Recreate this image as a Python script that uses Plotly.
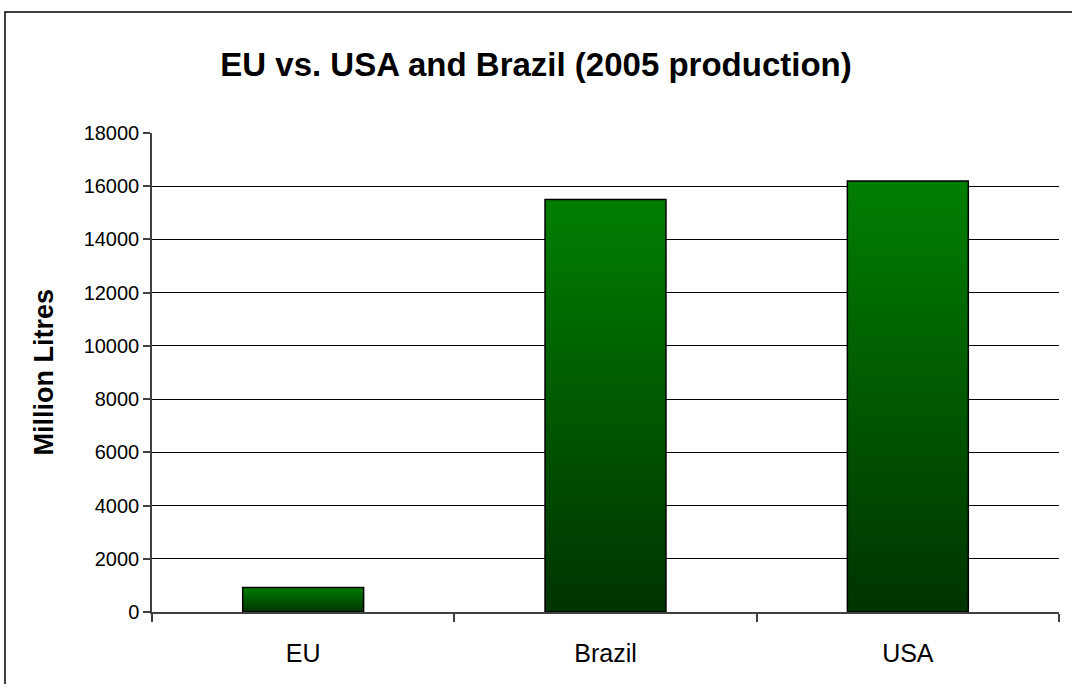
import plotly.graph_objects as go

# ---- data ----
categories = ["EU", "Brazil", "USA"]
production = [920, 15500, 16200]          # million litres, 2005
y_ticks = [0, 2000, 4000, 6000, 8000, 10000, 12000, 14000, 16000, 18000]
title_text = "EU vs. USA and Brazil (2005 production)"
y_title = "Million Litres"

# ---- layout constants ----
W, H = 1072, 684
ML, MR, MT, MB = 152, 13, 133, 72
PW, PH = W - ML - MR, H - MT - MB
FONT = "Liberation Sans, Arial, sans-serif"

top_rgb = (0, 126, 0)
bot_rgb = (0, 52, 0)
N = 80

fig = go.Figure()

# gradient fill: overlay bars from tallest (bright) to shortest (dark)
for k in range(N):
    frac = (N - k) / N
    lvl = (N - k - 1) / (N - 1)
    r = round(bot_rgb[0] + (top_rgb[0] - bot_rgb[0]) * lvl)
    g = round(bot_rgb[1] + (top_rgb[1] - bot_rgb[1]) * lvl)
    b = round(bot_rgb[2] + (top_rgb[2] - bot_rgb[2]) * lvl)
    fig.add_trace(go.Bar(
        x=categories, y=[v * frac for v in production],
        width=0.4, marker=dict(color=f"rgb({r},{g},{b})", line=dict(width=0)),
        hoverinfo="skip", showlegend=False,
    ))

# outline
fig.add_trace(go.Bar(
    x=categories, y=production, width=0.4,
    marker=dict(color="rgba(0,0,0,0)", line=dict(color="#000000", width=1.5)),
    showlegend=False, hovertemplate="%{x}: %{y}<extra></extra>",
))

fig.update_layout(
    width=W, height=H,
    margin=dict(l=ML, r=MR, t=MT, b=MB),
    paper_bgcolor="white", plot_bgcolor="white",
    barmode="overlay",
    font=dict(family=FONT, color="black", size=20),
    title=dict(text=title_text, x=536 / W, xanchor="center", xref="container",
               y=1 - 64 / H, yanchor="middle",
               font=dict(family=FONT, size=33, weight="bold", color="black")),
    xaxis=dict(
        type="category", showgrid=False, showline=True, linecolor="#404040", linewidth=1.5,
        ticks="outside", tickson="boundaries", ticklen=8, tickcolor="#404040", tickwidth=1.5,
        tickfont=dict(size=25), ticklabelstandoff=18, fixedrange=True,
    ),
    yaxis=dict(
        range=[0, 18000], tickvals=y_ticks, ticktext=[str(t) for t in y_ticks],
        showgrid=True, gridcolor="#000000", gridwidth=1,
        showline=True, linecolor="#404040", linewidth=1.5,
        ticks="outside", ticklen=7, tickcolor="#404040", tickwidth=1.5,
        tickfont=dict(size=20), zeroline=False, fixedrange=True,
    ),
    annotations=[dict(
        text=y_title, textangle=-90, xref="paper", yref="paper",
        x=(43 - ML) / PW, y=0.5, xanchor="center", yanchor="middle",
        showarrow=False, font=dict(family=FONT, size=27, weight="bold", color="black"),
    )],
    shapes=[dict(
        type="rect", xref="paper", yref="paper", layer="above",
        x0=(5 - ML) / PW, x1=(W + 20 - ML) / PW,
        y0=-(H + 20 - MT - PH) / PH, y1=1 + (MT - 12) / PH,
        line=dict(color="black", width=1.5), fillcolor="rgba(0,0,0,0)",
    )],
)

fig.write_html("out.html")
